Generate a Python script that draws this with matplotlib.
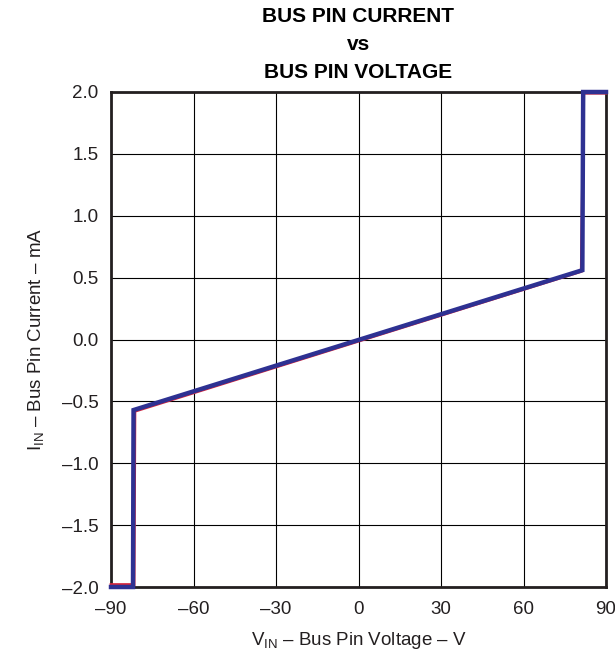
import matplotlib
matplotlib.use("Agg")
import matplotlib.pyplot as plt

plt.rcParams['font.family'] = ['Liberation Sans', 'DejaVu Sans']
plt.rcParams['mathtext.fontset'] = 'custom'
plt.rcParams['mathtext.rm'] = 'Liberation Sans'
plt.rcParams['mathtext.it'] = 'Liberation Sans'

# data
blue_v = [-90, -82.0, -81.8, 81.4, 81.7, 90]
blue_i = [-2.0, -2.0, -0.57, 0.56, 2.0, 2.0]
red_v = [-90, -81.6, -81.3, 81.0, 81.9, 90]
red_i = [-1.98, -1.98, -0.58, 0.55, 1.99, 1.99]

x_ticks = [-90, -60, -30, 0, 30, 60, 90]
x_labels = ['–90', '–60', '–30', '0', '30', '60', '90']
y_ticks = [-2.0, -1.5, -1.0, -0.5, 0.0, 0.5, 1.0, 1.5, 2.0]
y_labels = ['–2.0', '–1.5', '–1.0', '–0.5', '0.0', '0.5', '1.0', '1.5', '2.0']

fig = plt.figure(figsize=(6.15, 6.56), dpi=100)
ax = fig.add_axes([111/615, 1-587/656, 495/615, 495/656])

ax.plot(red_v, red_i, color='#d7263d', lw=2.0, solid_joinstyle='miter', zorder=3, clip_on=False)
ax.plot(blue_v, blue_i, color='#2e3192', lw=3.2, solid_joinstyle='miter', zorder=4, clip_on=False)

ax.set_xlim(-90, 90)
ax.set_ylim(-2.0, 2.0)
ax.set_xticks(x_ticks)
ax.set_xticklabels(x_labels, fontsize=13.5, color='#231f20')
ax.set_yticks(y_ticks)
ax.set_yticklabels(y_labels, fontsize=13.5, color='#231f20')
ax.tick_params(axis='x', length=0, pad=10)
ax.tick_params(axis='y', length=0, pad=9)
ax.grid(True, color='black', lw=0.8)
ax.set_axisbelow(True)
for s in ax.spines.values():
    s.set_linewidth(2.0)
    s.set_color('#231f20')

ax.set_xlabel('V$_{\\mathrm{IN}}$ – Bus Pin Voltage – V', fontsize=13.5, color='#231f20', labelpad=9)
ax.set_ylabel('I$_{\\mathrm{IN}}$ – Bus Pin Current – mA', fontsize=13.5, color='#231f20', labelpad=11)

cx = (111 + 247.5) / 615
fig.text(cx, 1 - 17/656, 'BUS PIN CURRENT', ha='center', va='center', fontsize=15, fontweight='bold')
fig.text(cx, 1 - 45/656, 'vs', ha='center', va='center', fontsize=15, fontweight='bold')
fig.text(cx, 1 - 72/656, 'BUS PIN VOLTAGE', ha='center', va='center', fontsize=15, fontweight='bold')

fig.savefig('out.png', dpi=100)
